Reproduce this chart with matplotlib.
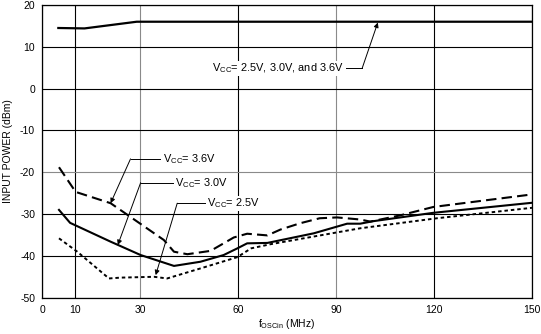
import matplotlib
matplotlib.use("Agg")
import matplotlib.pyplot as plt

plt.rcParams['font.family'] = ['Liberation Sans', 'DejaVu Sans']
plt.rcParams['mathtext.fontset'] = 'custom'
plt.rcParams['mathtext.rm'] = 'Liberation Sans'
plt.rcParams['mathtext.default'] = 'regular'

# data (f in MHz, power in dBm)
f_all = [5, 13, 29, 150]
p_all = [14.5, 14.4, 16, 16]

f_36 = [5.2, 10.3, 21, 37.3, 40.4, 44.5, 51.6, 58.7, 62.8, 69, 73, 79, 85, 90.3, 97.4, 100.5, 109.7, 119.8, 150]
p_36 = [-18.8, -24.7, -27.4, -36.2, -39.0, -39.6, -38.8, -35.6, -34.7, -35.1, -33.7, -32.2, -31.0, -30.8, -31.3, -31.8, -30.3, -28.3, -25.3]

f_30 = [5.2, 8.6, 21, 30.2, 40.4, 48.5, 55.6, 59.8, 62.8, 69, 83.2, 93.4, 97.4, 101.4, 119.8, 150]
p_30 = [-29.0, -32.1, -36.6, -39.8, -42.4, -41.4, -39.8, -38.2, -37.0, -36.9, -34.6, -32.3, -32.3, -31.7, -29.7, -27.3]

f_25 = [5.2, 10.8, 20.5, 24, 34.3, 38.3, 48.5, 59.8, 64, 70, 97.4, 120.9, 150]
p_25 = [-35.8, -39.0, -45.4, -45.2, -45.0, -45.4, -43.0, -40.3, -38.2, -37.2, -33.4, -31.0, -28.5]

x_ticks = [0, 10, 30, 60, 90, 120, 150]
y_ticks = [20, 10, 0, -10, -20, -30, -40, -50]

fig = plt.figure(figsize=(5.41, 3.34), dpi=100)
ax = fig.add_axes([42 / 541, 36.3 / 334, 490 / 541, 292.7 / 334])

ax.set_xlim(0, 150)
ax.set_ylim(-50, 20)
ax.set_xticks(x_ticks)
ax.set_yticks(y_ticks)
ax.set_xticklabels([str(t) for t in x_ticks])
ax.set_yticklabels([str(t) for t in y_ticks])
ax.tick_params(length=0, labelsize=7.5, pad=5)
ax.grid(True, color='black', lw=0.8)
# a few grid lines come out grey in the reference
ax.get_xgridlines()[2].set_color('#8a8a8a')
ax.get_xgridlines()[4].set_color('#8a8a8a')
ax.get_ygridlines()[4].set_color('#8a8a8a')
for s in ax.spines.values():
    s.set_linewidth(0.9)

ax.plot(f_all, p_all, color='black', lw=1.6)
ax.plot(f_36, p_36, color='black', lw=1.5, dashes=(5, 2.5))
ax.plot(f_30, p_30, color='black', lw=1.5)
ax.plot(f_25, p_25, color='black', lw=1.4, dashes=(1.8, 1.5))

ax.set_xlabel('f$_{OSCin}$ (MHz)', fontsize=7.5, labelpad=2)
ax.set_ylabel('INPUT POWER (dBm)', fontsize=7.5, labelpad=5)

arrow = dict(arrowstyle='-|>', color='black', lw=0.7, mutation_scale=7,
             shrinkA=0, shrinkB=0)
box = dict(facecolor='white', edgecolor='none', pad=0.5)

# callouts: text position, elbow, arrow tip
callouts = [
    ('V$_{CC}$= 3.6V', 37.0, -16.8, 27.1, (21.0, -27.4), 'left'),
    ('V$_{CC}$= 3.0V', 40.8, -22.5, 30.2, (23.2, -37.4), 'left'),
    ('V$_{CC}$= 2.5V', 50.6, -27.4, 41.4, (34.8, -44.6), 'left'),
    ('V$_{CC}$= 2.5V, 3.0V, and 3.6V', 92.5, 4.85, 98.0, (102.8, 15.8), 'right'),
]
for txt, tx, ty, ex, tip, ha in callouts:
    ax.text(tx, ty, txt, fontsize=7.9, ha=ha, va='center', bbox=box, zorder=5)
    if ha == 'left':
        ax.plot([ex, tx - 0.8], [ty, ty], color='black', lw=0.7, zorder=6)
    else:
        ax.plot([tx + 0.5, ex], [ty, ty], color='black', lw=0.7, zorder=6)
    ax.annotate('', xy=tip, xytext=(ex, ty), arrowprops=arrow, zorder=6)

fig.savefig('out.png', dpi=100)
